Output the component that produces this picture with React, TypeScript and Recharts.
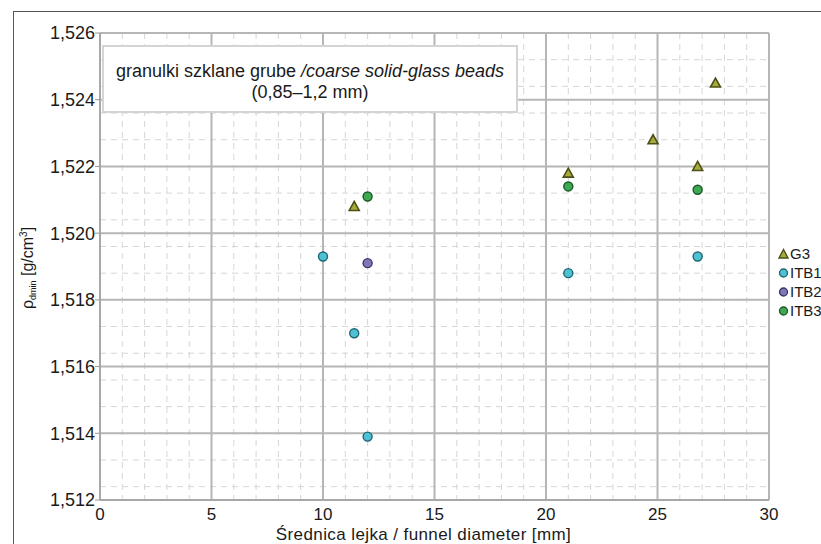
import React from 'react';
import { ScatterChart, Scatter, XAxis, YAxis, CartesianGrid, Legend } from 'recharts';

// funnel diameter [mm] vs dynamic minimum density [g/cm3]
const g3 = [
  { x: 11.4, y: 1.5208 },
  { x: 21, y: 1.5218 },
  { x: 24.8, y: 1.5228 },
  { x: 26.8, y: 1.522 },
  { x: 27.6, y: 1.5245 },
];
const itb1 = [
  { x: 10, y: 1.5193 },
  { x: 11.4, y: 1.517 },
  { x: 12, y: 1.5139 },
  { x: 21, y: 1.5188 },
  { x: 26.8, y: 1.5193 },
];
const itb2 = [{ x: 12, y: 1.5191 }];
const itb3 = [
  { x: 12, y: 1.5211 },
  { x: 21, y: 1.5214 },
  { x: 26.8, y: 1.5213 },
];

const xTicks = [0, 5, 10, 15, 20, 25, 30];
const yTicks = [1.512, 1.514, 1.516, 1.518, 1.52, 1.522, 1.524, 1.526];
const xMinor = [
  0, 1, 2, 3, 4, 5, 6, 7, 8, 9, 10, 11, 12, 13, 14, 15, 16, 17, 18, 19, 20, 21, 22, 23, 24, 25, 26, 27, 28, 29, 30,
];
const yMinor = [
  1.512, 1.5124, 1.5128, 1.5132, 1.5136, 1.514, 1.5144, 1.5148, 1.5152, 1.5156, 1.516, 1.5164, 1.5168, 1.5172,
  1.5176, 1.518, 1.5184, 1.5188, 1.5192, 1.5196, 1.52, 1.5204, 1.5208, 1.5212, 1.5216, 1.522, 1.5224, 1.5228,
  1.5232, 1.5236, 1.524, 1.5244, 1.5248, 1.5252, 1.5256, 1.526,
];

const FONT = '"Liberation Sans", Arial, sans-serif';
const INK = '#1a1a1a';

const colors = {
  G3: { fill: '#a7ab3c', stroke: '#4c5016' },
  ITB1: { fill: '#4ec2d3', stroke: '#1d6675' },
  ITB2: { fill: '#7f78b6', stroke: '#3b3766' },
  ITB3: { fill: '#3ea852', stroke: '#1b5a28' },
};

const Triangle = ({ cx, cy, fill, stroke }: any) => (
  <path d={`M${cx},${cy - 5} L${cx + 5},${cy + 4} L${cx - 5},${cy + 4} Z`} fill={fill} stroke={stroke} strokeWidth={1.6} />
);

const Dot = ({ cx, cy, fill, stroke }: any) => (
  <circle cx={cx} cy={cy} r={4.5} fill={fill} stroke={stroke} strokeWidth={1.4} />
);

const legendItems = [
  { name: 'G3', kind: 'tri' },
  { name: 'ITB1', kind: 'dot' },
  { name: 'ITB2', kind: 'dot' },
  { name: 'ITB3', kind: 'dot' },
];

const LegendBox = () => (
  <div style={{ fontFamily: FONT, fontSize: 15, color: INK }}>
    {legendItems.map((it) => {
      const c = colors[it.name as keyof typeof colors];
      return (
        <div key={it.name} style={{ display: 'flex', alignItems: 'center', height: 19 }}>
          <svg width={11} height={12} style={{ marginRight: 1 }}>
            {it.kind === 'tri' ? (
              <path d="M5.5,1.5 L10,10 L1,10 Z" fill={c.fill} stroke={c.stroke} strokeWidth={1.4} />
            ) : (
              <circle cx={5.5} cy={6} r={4} fill={c.fill} stroke={c.stroke} strokeWidth={1.3} />
            )}
          </svg>
          <span>{it.name}</span>
        </div>
      );
    })}
  </div>
);

const XTitle = ({ viewBox }: any) => (
  <text
    x={viewBox.x + viewBox.width / 2 - 11}
    y={540}
    textAnchor="middle"
    fontFamily={FONT}
    fontSize={17}
    letterSpacing={0.4}
    fill={INK}
  >
    Średnica lejka / funnel diameter [mm]
  </text>
);

const YTitle = () => (
  <text
    transform="translate(33,268) rotate(-90)"
    textAnchor="middle"
    fontFamily={FONT}
    fontSize={16}
    fill={INK}
  >
    ρ<tspan fontSize={9} dy={3}>dmin</tspan>
    <tspan dy={-3}> [g/cm</tspan>
    <tspan fontSize={10} dy={-6}>3</tspan>
    <tspan dy={6}>]</tspan>
  </text>
);

export default function App() {
  return (
    <div style={{ position: 'absolute', left: 0, top: 0, width: 821, height: 544, background: '#fff', overflow: 'hidden' }}>
      <div
        style={{
          position: 'absolute',
          left: 13,
          top: 11,
          right: -2,
          bottom: -2,
          borderTop: '1.5px solid #555',
          borderLeft: '1.5px solid #555',
        }}
      />
      <ScatterChart width={821} height={544} margin={{ top: 33, right: 52, bottom: 0, left: 0 }}>
        <CartesianGrid
          horizontalValues={yMinor}
          verticalValues={xMinor}
          stroke="#d6d6d6"
          strokeWidth={1}
          strokeDasharray="6 5"
        />
        <CartesianGrid stroke="#b6b6b6" strokeWidth={2} />
        <XAxis
          type="number"
          dataKey="x"
          domain={[0, 30]}
          ticks={xTicks}
          tickSize={0}
          tickMargin={8}
          height={44}
          axisLine={{ stroke: '#a8a8a8', strokeWidth: 2 }}
          tick={{ fontFamily: FONT, fontSize: 17, fill: INK }}
          label={<XTitle />}
        />
        <YAxis
          type="number"
          dataKey="y"
          domain={[1.512, 1.526]}
          ticks={yTicks}
          width={100}
          tickSize={5}
          tickMargin={0}
          axisLine={{ stroke: '#a8a8a8', strokeWidth: 2 }}
          tickLine={{ stroke: '#999' }}
          tickFormatter={(v: number) => v.toFixed(3).replace('.', ',')}
          tick={{ fontFamily: FONT, fontSize: 18, fill: INK }}
          label={<YTitle />}
        />
        <Legend
          content={<LegendBox />}
          layout="horizontal"
          verticalAlign="middle"
          wrapperStyle={{ position: 'absolute', left: 778, top: 244, width: 60 }}
        />
        <Scatter name="G3" data={g3} isAnimationActive={false} shape={<Triangle {...colors.G3} />} />
        <Scatter name="ITB1" data={itb1} isAnimationActive={false} shape={<Dot {...colors.ITB1} />} />
        <Scatter name="ITB2" data={itb2} isAnimationActive={false} shape={<Dot {...colors.ITB2} />} />
        <Scatter name="ITB3" data={itb3} isAnimationActive={false} shape={<Dot {...colors.ITB3} />} />
      </ScatterChart>
      <div
        style={{
          position: 'absolute',
          left: 102,
          top: 45,
          width: 412,
          height: 64,
          border: '2px solid #d4d4d4',
          background: '#fff',
          fontFamily: FONT,
          fontSize: 18,
          lineHeight: '21px',
          color: INK,
          textAlign: 'center',
          boxSizing: 'content-box',
        }}
      >
        <div style={{ marginTop: 14 }}>
          granulki szklane grube <i>/coarse solid-glass beads</i>
        </div>
        <div>(0,85–1,2 mm)</div>
      </div>
    </div>
  );
}
